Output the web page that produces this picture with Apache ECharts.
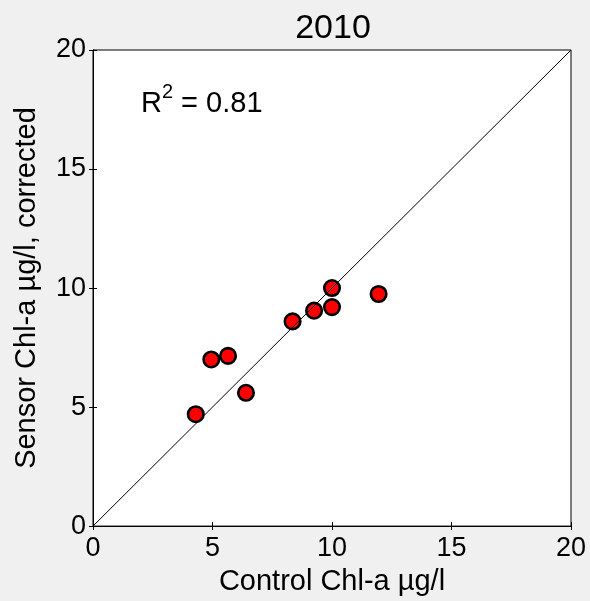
<!DOCTYPE html>
<html>
<head>
<meta charset="utf-8">
<script src="https://cdn.jsdelivr.net/npm/echarts@6/dist/echarts.min.js"></script>
<style>
  html, body { margin: 0; padding: 0; background: #f0f0f0; }
  #chart { width: 590px; height: 601px; }
</style>
</head>
<body>
<div id="chart"></div>
<script>
const controlChl = [4.3, 4.95, 5.65, 6.4, 8.35, 9.25, 10.0, 10.0, 11.95]
const sensorChl = [4.7, 7.0, 7.15, 5.6, 8.6, 9.05, 10.0, 9.2, 9.75]
const oneToOne = [[0, 0], [20, 20]]

const points = controlChl.map((x, i) => [x, sensorChl[i]])
const font = 'Liberation Sans, Arial, sans-serif'

const chart = echarts.init(document.getElementById('chart'))

// shared look for the box axes (ticks point inward, MATLAB style)
const baseAxis = {
  type: 'value',
  min: 0,
  max: 20,
  interval: 5,
  axisLine: { show: true, lineStyle: { color: '#000', width: 1 } },
  axisTick: { show: true, inside: true, length: 4, lineStyle: { color: '#000' } },
  splitLine: { show: false }
}

const option = {
  backgroundColor: '#f0f0f0',
  animation: false,
  title: {
    text: '2010',
    left: 328,
    top: 7,
    textAlign: 'center',
    textStyle: { fontFamily: font, fontSize: 34, fontWeight: 'normal', color: '#000' }
  },
  grid: {
    left: 93,
    top: 50,
    width: 478,
    height: 479,
    show: true,
    backgroundColor: '#fff',
    borderColor: '#000',
    borderWidth: 1
  },
  xAxis: [
    Object.assign({}, baseAxis, {
      position: 'bottom',
      name: 'Control Chl-a µg/l',
      nameLocation: 'middle',
      nameGap: 38,
      nameTextStyle: { fontFamily: font, fontSize: 29, color: '#000' },
      axisLabel: { fontFamily: font, fontSize: 27, color: '#000', margin: 9 }
    }),
    Object.assign({}, baseAxis, {
      position: 'top',
      axisLabel: { show: false }
    })
  ],
  yAxis: [
    Object.assign({}, baseAxis, {
      position: 'left',
      name: 'Sensor Chl-a µg/l, corrected',
      nameLocation: 'middle',
      nameGap: 52,
      nameTextStyle: { fontFamily: font, fontSize: 29, color: '#000' },
      axisLabel: { fontFamily: font, fontSize: 27, color: '#000', margin: 7 }
    }),
    Object.assign({}, baseAxis, {
      position: 'right',
      axisLabel: { show: false }
    })
  ],
  graphic: [
    {
      type: 'text',
      left: 141,
      top: 82,
      style: {
        text: '{b|R}{s|2}{b| = 0.81}',
        rich: {
          b: { fontFamily: font, fontSize: 29, color: '#000', verticalAlign: 'bottom', lineHeight: 36 },
          s: { fontFamily: font, fontSize: 20, color: '#000', verticalAlign: 'top', lineHeight: 36, padding: [0, 0, 14, 0] }
        }
      }
    }
  ],
  series: [
    {
      type: 'line',
      data: oneToOne,
      symbol: 'none',
      lineStyle: { color: '#000', width: 1 },
      silent: true
    },
    {
      type: 'scatter',
      data: points,
      symbol: 'circle',
      symbolSize: 15.5,
      itemStyle: { color: '#ff0000', borderColor: '#000', borderWidth: 2.6, opacity: 1 }
    }
  ]
}

chart.setOption(option)
</script>
</body>
</html>
